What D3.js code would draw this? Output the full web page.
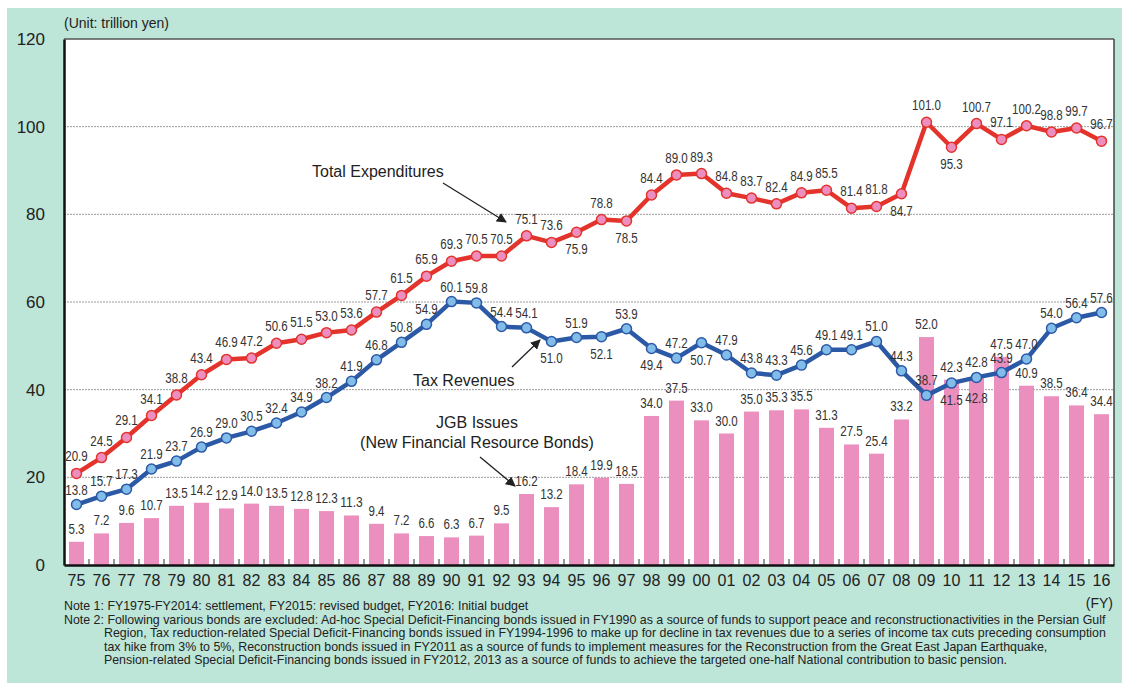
<!DOCTYPE html>
<html>
<head>
<meta charset="utf-8">
<script src="https://cdn.jsdelivr.net/npm/d3@7"></script>
<style>
  body { margin: 0; background: #fff; }
  text { font-family: "Liberation Sans", Arial, sans-serif; }
</style>
</head>
<body>
<svg id="chart" width="1122" height="683"></svg>
<script>
// fiscal years
var years = ["75","76","77","78","79","80","81","82","83","84",
             "85","86","87","88","89","90","91","92","93","94",
             "95","96","97","98","99","00","01","02","03","04",
             "05","06","07","08","09","10","11","12","13","14",
             "15","16"];

var expenditures = [20.9,24.5,29.1,34.1,38.8,43.4,46.9,47.2,50.6,51.5,
                    53.0,53.6,57.7,61.5,65.9,69.3,70.5,70.5,75.1,73.6,
                    75.9,78.8,78.5,84.4,89.0,89.3,84.8,83.7,82.4,84.9,
                    85.5,81.4,81.8,84.7,101.0,95.3,100.7,97.1,100.2,98.8,
                    99.7,96.7];

var taxRevenues = [13.8,15.7,17.3,21.9,23.7,26.9,29.0,30.5,32.4,34.9,
                   38.2,41.9,46.8,50.8,54.9,60.1,59.8,54.4,54.1,51.0,
                   51.9,52.1,53.9,49.4,47.2,50.7,47.9,43.8,43.3,45.6,
                   49.1,49.1,51.0,44.3,38.7,41.5,42.8,43.9,47.0,54.0,
                   56.4,57.6];

var jgbIssues = [5.3,7.2,9.6,10.7,13.5,14.2,12.9,14.0,13.5,12.8,
                 12.3,11.3,9.4,7.2,6.6,6.3,6.7,9.5,16.2,13.2,
                 18.4,19.9,18.5,34.0,37.5,33.0,30.0,35.0,35.3,35.5,
                 31.3,27.5,25.4,33.2,52.0,42.3,42.8,47.5,40.9,38.5,
                 36.4,34.4];

var yTicks = [0, 20, 40, 60, 80, 100, 120];

var notes = [
  "Note 1: FY1975-FY2014: settlement, FY2015: revised budget, FY2016: Initial budget",
  "Note 2: Following various bonds are excluded: Ad-hoc Special Deficit-Financing bonds issued in FY1990 as a source of funds to support peace and reconstructionactivities in the  Persian Gulf",
  "Region, Tax reduction-related Special Deficit-Financing bonds issued in FY1994-1996 to make up for decline in tax revenues due to a series of income tax cuts preceding consumption",
  "tax hike from 3% to 5%, Reconstruction bonds issued in FY2011 as a source of funds to implement measures for the Reconstruction from the Great East Japan Earthquake,",
  "Pension-related Special Deficit-Financing bonds issued in FY2012, 2013 as a source of funds to achieve the targeted one-half National contribution to basic pension."
];

// years whose value label sits under the point
var expBelow = ["95","97","08","10"];
var taxBelow = ["94","96","98","00","10"];
var jgbInside = ["11"];

(function() {
  var svg = d3.select("#chart");
  var pl = 64, pr = 1114, pt = 39, pb = 565;

  svg.append("rect").attr("x", 7).attr("y", 8).attr("width", 1115).attr("height", 675)
    .attr("fill", "#bde5d8");
  svg.append("rect").attr("x", pl).attr("y", pt).attr("width", pr - pl).attr("height", pb - pt)
    .attr("fill", "#fff");

  var x = d3.scaleBand().domain(years).range([pl, pr]).paddingInner(0.4).paddingOuter(0.2);
  var y = d3.scaleLinear().domain([0, 120]).range([pb, pt]);
  var cx = function(d) { return x(d) + x.bandwidth() / 2; };

  // grid
  svg.append("g").selectAll("line").data(yTicks.filter(function(t) { return t > 0 && t < 120; }))
    .join("line")
    .attr("x1", pl).attr("x2", pr)
    .attr("y1", function(d) { return y(d); }).attr("y2", function(d) { return y(d); })
    .attr("stroke", "#9a9a9a").attr("stroke-width", 1).attr("stroke-dasharray", "2,1");

  // bars
  svg.append("g").selectAll("rect").data(years).join("rect")
    .attr("x", function(d) { return x(d); })
    .attr("width", x.bandwidth())
    .attr("y", function(d, i) { return y(jgbIssues[i]); })
    .attr("height", function(d, i) { return pb - y(jgbIssues[i]); })
    .attr("fill", "#ea8fbe");

  // frame
  svg.append("line").attr("x1", pl).attr("x2", pr).attr("y1", pt).attr("y2", pt)
    .attr("stroke", "#555").attr("stroke-width", 1.5);
  svg.append("line").attr("x1", pr).attr("x2", pr).attr("y1", pt).attr("y2", pb)
    .attr("stroke", "#444").attr("stroke-width", 1.5);

  // axes
  var yAxis = svg.append("g").attr("transform", "translate(" + pl + ",0)")
    .call(d3.axisLeft(y).tickValues(yTicks).tickSize(0).tickPadding(19));
  yAxis.select(".domain").attr("stroke", "#111").attr("stroke-width", 2.5);
  yAxis.selectAll("text").attr("font-size", 17).attr("fill", "#222")
    .attr("font-family", "Liberation Sans, Arial, sans-serif");

  var xAxis = svg.append("g").attr("transform", "translate(0," + pb + ")")
    .call(d3.axisBottom(x).tickSize(0).tickPadding(10));
  xAxis.select(".domain").attr("stroke", "#111").attr("stroke-width", 2.5);
  xAxis.selectAll("text").attr("font-size", 16).attr("fill", "#222")
    .attr("font-family", "Liberation Sans, Arial, sans-serif");

  // little ticks between the years
  var step = x.step();
  svg.append("g").selectAll("line").data(years.slice(1)).join("line")
    .attr("x1", function(d) { return cx(d) - step / 2; })
    .attr("x2", function(d) { return cx(d) - step / 2; })
    .attr("y1", pb).attr("y2", pb - 6)
    .attr("stroke", "#333").attr("stroke-width", 1);

  // lines
  function drawSeries(values, stroke, fill) {
    var line = d3.line().x(function(d, i) { return cx(years[i]); }).y(function(d) { return y(d); });
    svg.append("path").datum(values).attr("d", line)
      .attr("fill", "none").attr("stroke", stroke).attr("stroke-width", 4.5)
      .attr("stroke-linejoin", "round");
    svg.append("g").selectAll("circle").data(values).join("circle")
      .attr("cx", function(d, i) { return cx(years[i]); })
      .attr("cy", function(d) { return y(d); })
      .attr("r", 5)
      .attr("fill", fill).attr("stroke", stroke).attr("stroke-width", 1.5);
  }
  drawSeries(expenditures, "#e3332b", "#ec8fc0");
  drawSeries(taxRevenues, "#2c59a6", "#82bde9");

  // value labels (narrow, like the original)
  function labels(values, below, inside, above) {
    svg.append("g").selectAll("text").data(values).join("text")
      .attr("x", function(d, i) { return cx(years[i]); })
      .attr("y", function(d, i) {
        var yr = years[i];
        if (below.indexOf(yr) >= 0) return y(d) + 22;
        if (inside && inside.indexOf(yr) >= 0) return y(d) + 26;
        return y(d) - above;
      })
      .attr("text-anchor", "middle")
      .attr("font-size", 14)
      .attr("fill", "#333")
      .attr("textLength", function(d) { return (d.toFixed(1).length - 1) * 6.5 + 3; })
      .attr("lengthAdjust", "spacingAndGlyphs")
      .text(function(d) { return d.toFixed(1); });
  }
  labels(jgbIssues, [], jgbInside, 8);
  labels(expenditures, expBelow, null, 12);
  labels(taxRevenues, taxBelow, null, 10);

  // annotations
  svg.append("defs").append("marker")
    .attr("id", "arrow").attr("viewBox", "0 0 10 10").attr("refX", 9).attr("refY", 5)
    .attr("markerWidth", 10).attr("markerHeight", 10).attr("markerUnits", "userSpaceOnUse")
    .attr("orient", "auto")
    .append("path").attr("d", "M0,0L10,5L0,10Z").attr("fill", "#222");

  function note(lines, tx, ty, anchor, a) {
    var t = svg.append("text").attr("x", tx).attr("y", ty).attr("font-size", 16)
      .attr("fill", "#222").attr("text-anchor", anchor);
    lines.forEach(function(s, i) {
      t.append("tspan").attr("x", tx).attr("dy", i === 0 ? 0 : 20).text(s);
    });
    svg.append("line").attr("x1", a[0]).attr("y1", a[1]).attr("x2", a[2]).attr("y2", a[3])
      .attr("stroke", "#222").attr("stroke-width", 1.3).attr("marker-end", "url(#arrow)");
  }
  note(["Total Expenditures"], 312, 177, "start", [443, 183, 506, 222]);
  note(["Tax Revenues"], 413, 386, "start", [512, 367, 540, 340]);
  note(["JGB Issues", "(New Financial Resource Bonds)"], 477, 428, "middle", [480, 457, 515, 486]);

  svg.append("text").attr("x", 64).attr("y", 28).attr("font-size", 14).attr("fill", "#222")
    .text("(Unit: trillion yen)");
  svg.append("text").attr("x", 1113).attr("y", 608).attr("font-size", 14).attr("fill", "#222")
    .attr("text-anchor", "end").text("(FY)");

  var noteG = svg.append("g");
  var probe = noteG.append("text").attr("font-size", 12.4).text("Note 2: ");
  var indent = probe.node().getComputedTextLength();
  probe.remove();
  noteG.selectAll("text").data(notes).join("text")
    .attr("x", function(d, i) { return i < 2 ? 64 : 64 + indent; })
    .attr("y", function(d, i) { return 610 + i * 13.5; })
    .attr("font-size", 12.4).attr("fill", "#222")
    .text(function(d) { return d; });
})();
</script>
</body>
</html>
